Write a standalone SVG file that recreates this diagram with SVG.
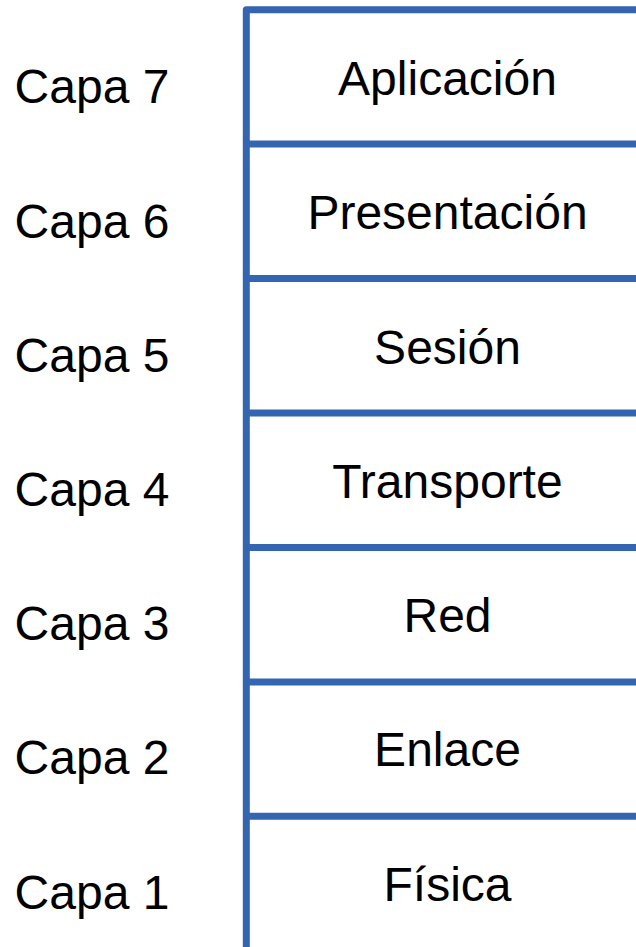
<svg xmlns="http://www.w3.org/2000/svg" width="636" height="947" viewBox="0 0 636 947">
<style>
.t{font-family:"Liberation Sans",Arial,sans-serif;font-size:48px;fill:#000;text-anchor:middle}
.ln{stroke:#3465b0;stroke-width:7;fill:none;stroke-linejoin:round}
</style>
<rect width="636" height="947" fill="#fff"/>
<g id="frame">
<polyline class="ln" points="246.3,947 246.3,9.7 640,9.7"/>
<line class="ln" x1="246.3" y1="144.1" x2="640" y2="144.1"/>
<line class="ln" x1="246.3" y1="278.6" x2="640" y2="278.6"/>
<line class="ln" x1="246.3" y1="413" x2="640" y2="413"/>
<line class="ln" x1="246.3" y1="547.4" x2="640" y2="547.4"/>
<line class="ln" x1="246.3" y1="681.9" x2="640" y2="681.9"/>
<line class="ln" x1="246.3" y1="816.3" x2="640" y2="816.3"/>
</g>
<g id="capa7"><text class="t" x="92" y="103.3">Capa 7</text><text class="t" x="447.5" y="95">Aplicación</text></g>
<g id="capa6"><text class="t" x="92" y="237.5">Capa 6</text><text class="t" x="447.5" y="229">Presentación</text></g>
<g id="capa5"><text class="t" x="92" y="371.7">Capa 5</text><text class="t" x="447.5" y="363.5">Sesión</text></g>
<g id="capa4"><text class="t" x="92" y="505.9">Capa 4</text><text class="t" x="447.5" y="497.5">Transporte</text></g>
<g id="capa3"><text class="t" x="92" y="640.1">Capa 3</text><text class="t" x="447.5" y="632">Red</text></g>
<g id="capa2"><text class="t" x="92" y="774.3">Capa 2</text><text class="t" x="447.5" y="766">Enlace</text></g>
<g id="capa1"><text class="t" x="92" y="908.5">Capa 1</text><text class="t" x="447.5" y="900.5">Física</text></g>
</svg>
